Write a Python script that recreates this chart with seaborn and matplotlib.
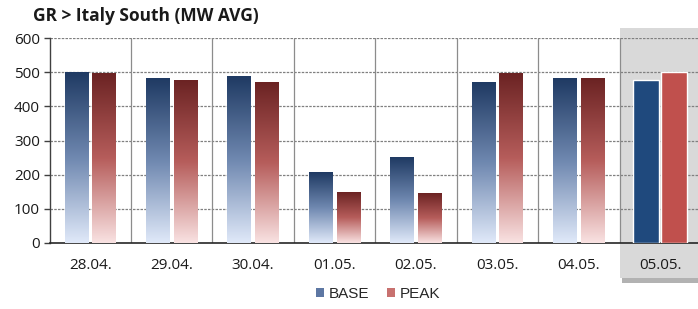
import numpy as np
import pandas as pd
import seaborn as sns
import matplotlib.pyplot as plt
from matplotlib.colors import LinearSegmentedColormap
from matplotlib.patches import Rectangle, Patch
import matplotlib.transforms as mtransforms

# datos
days = ["28.04.", "29.04.", "30.04.", "01.05.", "02.05.", "03.05.", "04.05.", "05.05."]
base = [500, 482, 486, 206, 249, 470, 482, 477]
peak = [495, 477, 469, 147, 144, 495, 482, 500]
series = ["BASE", "PEAK"]
y_ticks = [0, 100, 200, 300, 400, 500, 600]

df = pd.DataFrame({
    "day": days * 2,
    "value": base + peak,
    "series": ["BASE"] * len(days) + ["PEAK"] * len(days),
})

sns.set_style("white")
plt.rcParams["font.family"] = ["Open Sans", "DejaVu Sans"]

fig = plt.figure(figsize=(6.98, 3.09), dpi=100)
ax = fig.add_axes([49.5 / 698, 66 / 309, 651.5 / 698, 205 / 309])

solid = {"BASE": "#1f497d", "PEAK": "#c0504d"}
grads = {
    "BASE": LinearSegmentedColormap.from_list("b", ["#e0e9f9", "#6f88b0", "#1f3a63"]),
    "PEAK": LinearSegmentedColormap.from_list("p", ["#f9e2e2", "#b65d5b", "#6b2323"]),
}

sns.barplot(data=df, x="day", y="value", hue="series", palette=solid,
            width=0.68, ax=ax, legend=False, zorder=3, saturation=1)

# zona gris del ultimo dia
trans = mtransforms.blended_transform_factory(ax.transData, ax.transAxes)
ax.add_patch(Rectangle((6.5, -0.171), 1.2, 1.22, transform=trans,
                       facecolor="#d9d9d9", edgecolor="none", zorder=0, clip_on=False))
ax.add_patch(Rectangle((6.53, -0.195), 1.2, 0.024, transform=trans,
                       facecolor="#b2b2b2", edgecolor="none", zorder=0, clip_on=False))

# barras con degradado
grad = np.linspace(0, 1, 256).reshape(-1, 1)
for name, cont in zip(series, ax.containers):
    for i, bar in enumerate(cont):
        cx = bar.get_x() + bar.get_width() / 2
        if i == len(days) - 1:
            w = 0.32
            bar.set_x(cx - w / 2)
            bar.set_width(w)
            continue
        w = 0.29
        bar.set_x(cx - w / 2)
        bar.set_width(w)
        h = bar.get_height()
        bar.set_facecolor("none")
        bar.set_edgecolor("none")
        ax.imshow(grad, cmap=grads[name], aspect="auto", origin="lower",
                  extent=(cx - w / 2, cx + w / 2, 0, h), zorder=3)

ax.set_xlim(-0.5, 7.5)
ax.set_ylim(0, 600)
ax.set_yticks(y_ticks)
ax.set_xticks(np.arange(len(days)))
ax.set_xticklabels(days)
ax.set_xlabel("")
ax.set_ylabel("")

# cuadricula
for y in y_ticks[1:]:
    ax.axhline(y, color="#808080", lw=0.9, ls=(0, (2, 1)), zorder=1)
for x in np.arange(0.5, 7.5, 1):
    ax.axvline(x, color="#8c8c8c", lw=0.9, zorder=1)

for s in ["top", "right"]:
    ax.spines[s].set_visible(False)
ax.spines["left"].set_color("#404040")
ax.spines["bottom"].set_color("#262626")
ax.spines["left"].set_linewidth(1.0)
ax.spines["bottom"].set_linewidth(1.2)
ax.set_xticks(np.arange(-0.5, 8, 1), minor=True)
ax.tick_params(axis="x", which="major", length=0, labelsize=11, pad=11, colors="#1a1a1a")
ax.tick_params(axis="x", which="minor", length=5, width=1, color="#262626", direction="out")
ax.tick_params(axis="y", length=4, width=1, color="#404040", labelsize=11, pad=3,
               direction="out", left=True)
for lab in ax.get_yticklabels():
    lab.set_color("#1a1a1a")

fig.text(33 / 698, 1 - 16 / 309, "GR > Italy South (MW AVG)", fontsize=12.5,
         fontweight="bold", va="center", ha="left", color="#1a1a1a")

handles = [Patch(facecolor="#5d77a3", edgecolor="none"),
           Patch(facecolor="#c8716f", edgecolor="none")]
fig.legend(handles, series, loc="center", bbox_to_anchor=(378 / 698, 1 - 294 / 309),
           ncol=2, frameon=False, handlelength=0.5, handleheight=0.45,
           handletextpad=0.3, columnspacing=1.2,
           prop={"family": "Liberation Sans", "size": 11})

fig.savefig("out.png", dpi=100)
